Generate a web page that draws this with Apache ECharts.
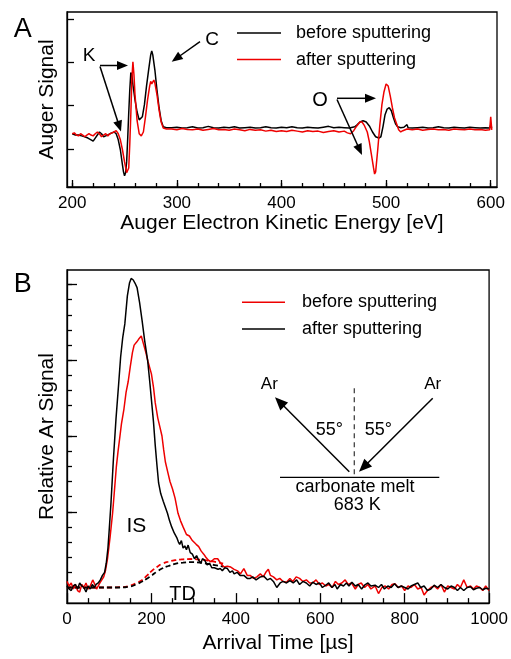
<!DOCTYPE html>
<html><head><meta charset="utf-8">
<script src="https://cdn.jsdelivr.net/npm/echarts@6/dist/echarts.min.js"></script>
<style>html,body{margin:0;padding:0;background:#fff}#c{width:511px;height:659px}</style>
</head><body><div id="c"></div>
<script>
// ---------- Panel A: Auger spectra (energy eV, signal a.u.) ----------
const augerBefore = [[200,3.5],[203,3.2],[206,3.2],[209,3.0],[212,2.8],[215,2.5],[218,2.1],[220,1.8],[222,2.5],[224,3.2],[226,3.9],[228,3.5],[230,2.8],[232,3.0],[234,3.2],[236,3.5],[238,3.7],[240,3.9],[242,3.5],[244,2.1],[246,-0.2],[248,-3.7],[249,-5.3],[250,-6.2],[251,-5.5],[252,-3.0],[253,2.3],[254,8.3],[255,13.6],[256,17.6],[257,17.1],[258,14.8],[260,11.3],[262,8.5],[264,6.7],[265,6.5],[267,7.4],[269,10.2],[271,14.5],[273,18.2],[275,21.7],[276,22.6],[277,21.7],[279,18.2],[281,13.6],[283,9.5],[285,6.5],[287,5.1],[290,4.9],
[295,4.9],[300,5.0],[305,4.8],[310,4.9],[315,5.1],[320,4.8],[325,4.9],[330,5.2],[335,4.9],[340,4.8],[345,5.0],[350,4.9],[355,5.1],[360,4.8],[365,4.9],[370,5.0],[375,4.8],[380,4.9],[385,5.1],[390,4.9],[395,4.8],[400,5.0],[405,4.9],[410,5.1],[415,4.9],[420,4.8],[425,5.0],[430,4.9],[435,4.8],[440,5.0],[445,5.2],[450,4.9],[455,5.0],[460,4.9],[465,4.8],[470,5.1],
[472,5.5],[475,6.2],[478,6.5],[481,6.2],[484,5.3],[487,3.9],[490,2.8],[493,2.5],[495,2.8],[497,5.1],[499,7.9],[501,9.2],[503,9.5],[505,8.8],[507,7.2],[509,5.8],[511,5.1],[514,4.9],[517,5.0],[520,5.6],[521,4.9],[525,4.8],[530,4.9],[535,5.0],[540,4.8],[545,4.9],[550,5.1],[555,4.9],[560,4.8],[565,5.0],[570,4.9],[575,4.8],[580,5.0],[585,4.9],[590,4.8],[595,4.9],[599,4.8],[600,5.5],[601,4.9]];

const augerAfter = [[200,3.5],[202,3.7],[204,3.2],[206,3.0],[208,3.5],[210,3.2],[212,2.8],[214,3.2],[216,3.5],[218,3.2],[220,3.0],[222,3.5],[224,3.9],[226,3.5],[228,2.8],[230,3.2],[232,3.5],[234,3.0],[236,3.5],[238,3.7],[240,3.9],[242,4.2],[244,3.5],[246,2.1],[248,-0.2],[250,-3.0],[252,-5.5],[253,-5.8],[254,-4.4],[255,1.1],[256,8.0],[257,16.2],[258,20.1],[259,17.1],[260,12.5],[262,6.5],[264,3.5],[266,3.0],[268,3.9],[270,7.4],[272,11.3],[274,14.5],[275,15.6],[276,15.0],[277,15.0],[278,15.9],[279,15.2],[281,12.5],[283,9.0],[285,6.2],[287,4.8],[290,4.6],
[295,4.6],[300,4.4],[305,4.7],[310,4.5],[315,4.4],[320,4.6],[325,4.3],[330,4.5],[335,4.7],[340,4.4],[345,4.5],[350,4.3],[355,4.6],[360,4.4],[365,4.2],[370,4.5],[375,4.3],[380,4.4],[385,4.1],[390,4.3],[395,4.0],[400,4.2],[405,4.0],[410,4.3],[415,4.1],[420,3.9],[425,4.2],[430,4.0],[435,4.1],[440,3.8],[445,4.0],[450,4.2],[455,3.9],[460,4.1],[463,3.7],[466,3.5],
[469,4.2],[472,5.3],[475,6.2],[477,6.2],[479,5.5],[482,3.9],[484,1.6],[486,-1.4],[488,-4.4],[489,-5.8],[490,-5.3],[492,-0.2],[494,5.5],[496,10.2],[498,13.2],[500,15.0],[501,15.2],[502,14.5],[504,12.2],[506,9.5],[508,7.2],[510,5.8],[512,4.4],[514,3.9],[516,4.2],[520,4.6],[525,4.4],[530,4.6],[535,4.3],[540,4.5],[545,4.6],[550,4.4],[555,4.5],[560,4.3],[565,4.6],[570,4.5],[575,4.4],[580,4.6],[585,4.4],[590,4.5],[595,4.3],[599,4.4],[600,7.4],[601,4.4]];

const augerMajorTicks = [200,300,400,500,600];
const augerMinorTicks = [200,220,240,260,280,300,320,340,360,380,400,420,440,460,480,500,520,540,560,580,600];
const augerYTicks = [0,10,20,30];

// ---------- Panel B: Ar time-of-flight (µs, relative signal) ----------
const arBefore = [[0,0.4],[5,0.1],[10,0.3],[15,-0.1],[20,0.2],[25,-0.2],[30,-0.3],[35,0.2],[40,0.0],[45,0.3],[50,-0.1],[55,0.1],[61,0.5],[66,0.2],[70,-0.1],[74,0.0],[78,0.3],[82,0.4],[87,0.7],[91,1.1],[96,1.9],[102,3.3],[108,4.9],[113,6.6],[117,8.0],[121,9.0],[125,9.9],[129,10.8],[135,11.8],[140,12.9],[145,13.6],[150,14.6],[155,15.5],[159,16.0],[165,16.2],[170,16.4],[176,16.6],[181,16.1],[186,15.6],[192,14.9],[200,14.1],[205,13.2],[209,12.2],[215,11.2],[220,10.6],[225,10.0],[229,9.1],[233,8.3],[238,7.7],[244,7.0],[250,6.5],[256,5.9],[263,4.9],[269,4.4],[275,4.0],[283,3.5],[290,3.4],[297,3.1],[306,2.85],[312,2.7],[318,2.4],[324,2.2],[329,2.0],[335,1.8],[341,1.7],[349,1.9],[357,1.9],[364,1.6],[372,1.35],[380,1.4],[388,1.35],[396,1.2],[404,1.1],[411,0.9],[419,1.25],[427,0.8],[434,0.8],[442,0.6],[450,0.7],[458,0.9],[465,0.7],[471,1.0],[477,1.2],[482,0.8],[489,0.7],[497,0.5],[504,0.6],[512,0.4],[520,0.35],[528,0.6],[535,0.4],[543,0.7],[551,0.6],[559,0.4],[567,0.5],[575,0.3],[582,0.3],[590,0.5],[598,0.2],[605,0.3],[613,0.1],[620,0.2],[628,0.0],[636,0.4],[643,0.2],[651,0.3],[659,0.5],[666,0.2],[674,0.3],[683,-0.1],[690,0.2],[697,0.3],[705,0.0],[713,0.2],[720,-0.1],[730,0.1],[738,-0.4],[746,0.0],[754,0.1],[762,-0.1],[770,0.2],[777,0.25],[785,0.0],[793,0.1],[800,-0.2],[808,0.1],[815,0.0],[823,0.2],[831,-0.1],[839,0.0],[846,-0.5],[854,-0.2],[862,0.0],[870,0.1],[878,-0.1],[886,0.2],[894,-0.3],[902,0.1],[910,0.0],[918,-0.1],[925,0.2],[932,0.0],[940,0.5],[948,0.0],[956,0.1],[963,-0.1],[970,0.1],[978,0.0],[985,-0.2],[992,0.1],[1000,-0.2]];

const arAfter = [[0,0.1],[5,-0.1],[10,-0.2],[15,0.1],[20,0.2],[25,-0.1],[30,0.3],[35,0.1],[40,0.0],[45,-0.3],[50,0.1],[55,-0.1],[60,0.2],[65,0.0],[69,0.2],[74,0.3],[79,0.5],[84,0.8],[89,1.0],[93,1.6],[97,2.6],[100,3.8],[104,5.5],[110,8.5],[116,11.1],[122,13.3],[127,15.2],[132,16.5],[137,17.4],[143,19.25],[148,20.1],[152,20.4],[157,20.3],[161,20.1],[166,19.8],[172,18.8],[178,17.6],[184,16.3],[191,15.0],[196,13.6],[200,12.4],[205,10.9],[209,9.4],[213,8.1],[217,6.9],[222,6.2],[228,5.7],[233,5.3],[238,4.9],[243,4.4],[248,4.0],[254,3.6],[260,3.3],[264,3.0],[267,2.85],[271,3.1],[275,2.6],[279,2.75],[283,2.5],[287,2.8],[292,2.3],[297,2.2],[302,1.9],[307,2.1],[312,1.8],[317,1.6],[321,1.9],[326,1.8],[332,1.5],[338,1.6],[343,1.3],[349,1.3],[353,1.35],[358,1.2],[363,1.25],[368,1.1],[374,1.3],[380,1.25],[386,1.0],[392,1.1],[396,0.9],[403,1.0],[410,0.8],[419,0.8],[427,0.6],[434,0.6],[440,0.7],[448,0.5],[458,0.7],[466,0.75],[475,0.5],[482,0.6],[489,0.4],[497,0.0],[505,0.3],[512,0.4],[520,0.3],[528,0.45],[536,0.3],[544,0.5],[551,0.2],[559,0.4],[567,0.3],[575,0.1],[582,0.35],[590,0.2],[598,0.3],[605,0.0],[613,0.15],[620,0.3],[628,0.0],[635,0.2],[640,-0.1],[648,0.2],[655,0.1],[662,0.3],[668,0.1],[675,0.35],[683,0.1],[690,0.2],[698,-0.1],[705,0.15],[713,0.3],[720,0.1],[730,0.15],[738,0.0],[745,0.2],[752,-0.1],[760,0.1],[768,0.0],[776,0.25],[784,0.0],[792,0.1],[800,0.0],[808,-0.1],[815,0.1],[823,0.2],[831,0.3],[838,0.0],[846,0.1],[854,-0.2],[862,-0.1],[870,0.15],[878,0.0],[886,0.2],[894,0.0],[902,-0.1],[910,0.1],[918,0.0],[925,-0.2],[932,0.0],[940,-0.2],[948,0.0],[956,0.05],[963,-0.15],[970,-0.05],[978,0.0],[985,-0.15],[992,-0.05],[1000,-0.1]];

const tdBefore = [[0,0],[50,0],[100,0],[125,0.02],[147,0.1],[165,0.3],[178,0.5],[190,0.8],[201,1.1],[213,1.35],[225,1.56],[240,1.7],[256,1.8],[275,1.86],[294,1.88],[315,1.84],[333,1.78],[350,1.7],[370,1.58]];
const tdAfter = [[0,0],[50,0],[100,0],[125,0],[147,0.05],[165,0.22],[178,0.4],[190,0.6],[201,0.8],[213,1.05],[225,1.25],[240,1.42],[256,1.56],[275,1.64],[294,1.67],[315,1.64],[333,1.56],[350,1.48],[370,1.38]];

const arYTicks = [0,1,2,3,4,5,6,7,8,9,10,11,12,13,14,15,16,17,18,19,20];
const arYMajorTicks = [0,5,10,15,20];

const RED = '#ee0000';
const FONT = 'Liberation Sans, Arial, Helvetica, sans-serif';

function txt(text, x, y, size, align) {
  return {type:'text', x:x, y:y, z:10,
    style:{text:text, fontSize:size, fontFamily:FONT, fill:'#000', align:align||'center', verticalAlign:'middle'}};
}
function seg(x1,y1,x2,y2,color,w,dash) {
  return {type:'line', z:10, shape:{x1:x1,y1:y1,x2:x2,y2:y2},
    style:{stroke:color||'#000', lineWidth:w||1.5, lineDash:dash||null}};
}
function arrow(x1,y1,x2,y2,hl,hw) {
  hl = hl||11; hw = hw||4.5;
  const dx=x2-x1, dy=y2-y1, L=Math.hypot(dx,dy), ux=dx/L, uy=dy/L;
  const bx=x2-ux*hl, by=y2-uy*hl;
  return [seg(x1,y1,bx+ux*2,by+uy*2,'#000',1.5),
    {type:'polygon', z:10, shape:{points:[[x2,y2],[bx-uy*hw,by+ux*hw],[bx+uy*hw,by-ux*hw]]}, style:{fill:'#000'}}];
}

const axisTxt = {fontSize:17, fontFamily:FONT, color:'#000', formatter:function(v){return String(v);}};
const nameTxt = {fontSize:21, fontFamily:FONT, color:'#000'};
const blackLine = {color:'#000', width:1.3};

const graphics = [].concat(
  [txt('A', 22.7, 30, 27), txt('B', 22.8, 285, 27),
   txt('K', 89, 56, 19), txt('C', 212, 40, 19), txt('O', 320, 100, 20),
   txt('IS', 136.3, 526, 21), txt('TD', 182.7, 594.5, 20),
   // legend A
   seg(237,33,281,33,'#000',1.5), txt('before sputtering', 296, 33, 18, 'left'),
   seg(237,59.5,281,59.5,RED,1.5), txt('after sputtering', 296, 60, 18, 'left'),
   // legend B
   seg(242,302.3,285,302.3,RED,1.5), txt('before sputtering', 302, 302, 18, 'left'),
   seg(242,329,285,329,'#000',1.5), txt('after sputtering', 302, 329, 18, 'left'),
   // scattering diagram
   txt('Ar', 269.3, 384, 17), txt('Ar', 432.7, 384, 17),
   txt('55°', 329.3, 430, 18), txt('55°', 378.3, 430, 18),
   seg(354.3,388.3,354.3,477.3,'#444',1.3,[5,4]),
   seg(280,477.3,439.3,477.3,'#000',1.3),
   txt('carbonate melt', 355, 487.5, 18), txt('683 K', 357.3, 505.5, 18)],
  arrow(100,65.5,128,65.5), arrow(100,66.5,121,131.5),
  arrow(200,41.7,171.7,61.7),
  arrow(337,98.3,376,98.3), arrow(337,99.5,362,155),
  arrow(349.3,471.7,275,397.3,13,5.5), arrow(432.7,398.3,359,471.7,13,5.5)
);

const option = {
  animation:false,
  backgroundColor:'#fff',
  grid:[
    {left:67, top:12, width:430, height:175, show:true, borderColor:'#000', borderWidth:1.3},
    {left:67, top:270, width:429, height:342, show:true, borderColor:'#000', borderWidth:1.3}
  ],
  xAxis:[
    {gridIndex:0, type:'value', position:'bottom', min:195, max:606, axisLine:{onZero:false, lineStyle:blackLine},
     axisTick:{inside:true, length:7, customValues:augerMajorTicks, lineStyle:blackLine},
     axisLabel:{customValues:augerMajorTicks, margin:8, ...axisTxt}, splitLine:{show:false},
     name:'Auger Electron Kinetic Energy [eV]', nameLocation:'middle', nameGap:26, nameTextStyle:nameTxt},
    {gridIndex:0, type:'value', position:'bottom', min:195, max:606, axisLine:{show:false, onZero:false},
     axisTick:{inside:true, length:4, customValues:augerMinorTicks, lineStyle:blackLine},
     axisLabel:{show:false}, splitLine:{show:false}},
    {gridIndex:1, type:'value', position:'bottom', min:0, max:1000, interval:200, axisLine:{onZero:false, lineStyle:blackLine},
     axisTick:{inside:true, length:10, lineStyle:blackLine},
     minorTick:{show:true, splitNumber:4, length:5, lineStyle:blackLine},
     axisLabel:{margin:8, ...axisTxt}, splitLine:{show:false}, minorSplitLine:{show:false},
     name:'Arrival Time [µs]', nameLocation:'middle', nameGap:26, nameTextStyle:nameTxt}
  ],
  yAxis:[
    {gridIndex:0, type:'value', position:'left', min:-8.8, max:31.6, axisLine:{onZero:false, lineStyle:blackLine},
     axisTick:{inside:true, length:7, customValues:augerYTicks, lineStyle:blackLine},
     axisLabel:{show:false}, splitLine:{show:false},
     name:'Auger Signal', nameLocation:'middle', nameGap:9, nameTextStyle:nameTxt},
    {gridIndex:1, type:'value', position:'left', min:-1.03, max:20.96, axisLine:{onZero:false, lineStyle:blackLine},
     axisTick:{inside:true, length:5, customValues:arYTicks, lineStyle:blackLine},
     axisLabel:{show:false}, splitLine:{show:false},
     name:'Relative Ar Signal', nameLocation:'middle', nameGap:9, nameTextStyle:nameTxt},
    {gridIndex:1, type:'value', position:'left', min:-1.03, max:20.96, axisLine:{show:false, onZero:false},
     axisTick:{inside:true, length:10, customValues:arYMajorTicks, lineStyle:blackLine},
     axisLabel:{show:false}, splitLine:{show:false}}
  ],
  series:[
    {type:'line', xAxisIndex:0, yAxisIndex:0, data:augerBefore, showSymbol:false, lineStyle:{color:'#000', width:1.5}, itemStyle:{color:'#000'}},
    {type:'line', xAxisIndex:0, yAxisIndex:0, data:augerAfter, showSymbol:false, lineStyle:{color:RED, width:1.5}, itemStyle:{color:RED}},
    {type:'line', xAxisIndex:2, yAxisIndex:1, data:tdBefore, showSymbol:false, smooth:true, lineStyle:{color:RED, width:1.8, type:[5,3]}},
    {type:'line', xAxisIndex:2, yAxisIndex:1, data:tdAfter, showSymbol:false, smooth:true, lineStyle:{color:'#000', width:1.8, type:[5,3]}},
    {type:'line', xAxisIndex:2, yAxisIndex:1, data:arBefore, showSymbol:false, lineStyle:{color:RED, width:1.5}, itemStyle:{color:RED}},
    {type:'line', xAxisIndex:2, yAxisIndex:1, data:arAfter, showSymbol:false, lineStyle:{color:'#000', width:1.5}, itemStyle:{color:'#000'}}
  ],
  graphic:graphics
};
const chart = echarts.init(document.getElementById('c'), null, {renderer:'canvas'});
chart.setOption(option);
</script></body></html>
